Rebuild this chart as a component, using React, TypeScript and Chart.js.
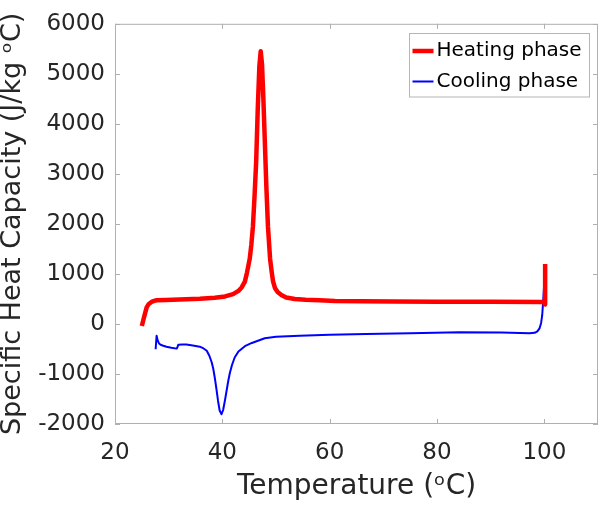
import React, { useEffect, useRef } from "react";
import { Chart, registerables } from "chart.js";

Chart.register(...registerables);

const xTicks = [20, 40, 60, 80, 100];
const yTicks = [-2000, -1000, 0, 1000, 2000, 3000, 4000, 5000, 6000];

const heatingT = [25.0, 25.3, 25.6, 25.9, 26.3, 26.8, 27.3, 27.75, 29.5, 32, 35.8, 38.6, 40.5, 42.0, 43.0, 43.6, 44.2, 44.6, 45.1, 45.4, 45.7, 46.0, 46.3, 46.6, 46.9, 47.15, 47.4, 47.65, 47.9, 48.2, 48.5, 48.9, 49.2, 49.45, 49.8, 50.3, 51.0, 51.9, 53.5, 55.5, 58.1, 61.0, 66, 72, 80, 90, 99.8, 100.15, 100.15];
const heatingCp = [-40, 90, 210, 330, 400, 440, 460, 473, 480, 490, 506, 525, 550, 595, 660, 730, 846, 1030, 1300, 1580, 1950, 2550, 3230, 4300, 5150, 5450, 5180, 4500, 3700, 2750, 1950, 1300, 1040, 850, 720, 640, 580, 530, 500, 485, 472, 460, 452, 448, 445, 443, 441, 390, 1200];

const coolingT = [27.57, 27.75, 27.95, 28.2, 28.5, 29.0, 29.6, 30.5, 31.5, 31.65, 31.8, 32.5, 33.3, 34.5, 35.8, 36.5, 37.1, 37.6, 38.0, 38.3, 38.6, 38.9, 39.2, 39.5, 39.85, 40.15, 40.5, 40.8, 41.1, 41.4, 41.8, 42.3, 43.0, 44.2, 45.5, 47.9, 50.0, 54.4, 60.0, 66.8, 75, 84.2, 92, 97.2, 98.2, 98.7, 99.1, 99.4, 99.6, 99.8, 100.0, 100.2];
const coolingCp = [-506, -235, -330, -390, -415, -435, -455, -475, -493, -460, -415, -410, -412, -430, -455, -490, -537, -640, -760, -890, -1080, -1300, -1540, -1730, -1805, -1720, -1520, -1330, -1140, -980, -820, -670, -550, -445, -380, -285, -255, -235, -215, -203, -188, -168, -170, -184, -178, -150, -90, 20, 170, 480, 850, 1180];

const heatingLabel = "Heating phase";
const coolingLabel = "Cooling phase";
const xTitle = "Temperature (ᵒC)";
const yTitle = "Specific Heat Capacity (J/kg ᵒC)";

const FONT = "'DejaVu Sans', 'Liberation Sans', Arial, sans-serif";
const TEXT = "#262626";
const AXIS = "#b0b0b0";

const framePlugin = {
  id: "frame",
  beforeDatasetsDraw(chart: any) {
    const { ctx, chartArea } = chart;
    const { left, right, top, bottom } = chartArea;
    ctx.save();
    ctx.strokeStyle = AXIS;
    ctx.lineWidth = 1;
    ctx.strokeRect(left + 0.5, top + 0.5, right - left - 1, bottom - top - 1);
    const xs = chart.scales.x;
    const ys = chart.scales.y;
    const len = 5;
    ctx.beginPath();
    xTicks.forEach((v) => {
      const px = Math.round(xs.getPixelForValue(v)) + 0.5;
      ctx.moveTo(px, bottom);
      ctx.lineTo(px, bottom - len);
      ctx.moveTo(px, top);
      ctx.lineTo(px, top + len);
    });
    yTicks.forEach((v) => {
      const py = Math.round(ys.getPixelForValue(v)) + 0.5;
      ctx.moveTo(left, py);
      ctx.lineTo(left + len, py);
      ctx.moveTo(right, py);
      ctx.lineTo(right - len, py);
    });
    ctx.stroke();
    ctx.restore();
  },
  afterDraw(chart: any) {
    const { ctx, chartArea } = chart;
    const bw = 180;
    const bh = 63.5;
    const bx = Math.round(chartArea.right - 9 - bw) + 0.5;
    const by = Math.round(chartArea.top + 9) + 0.5;
    ctx.save();
    ctx.fillStyle = "#ffffff";
    ctx.fillRect(bx, by, bw, bh);
    ctx.strokeStyle = "#b5b5b5";
    ctx.lineWidth = 1;
    ctx.strokeRect(bx, by, bw, bh);
    const rows = [by + 17.5, by + 48];
    chart.data.datasets.forEach((ds: any, i: number) => {
      const cy = rows[i];
      ctx.strokeStyle = ds.borderColor;
      ctx.lineWidth = ds.borderWidth;
      ctx.beginPath();
      ctx.moveTo(bx + 3, cy);
      ctx.lineTo(bx + 24, cy);
      ctx.stroke();
      ctx.fillStyle = "#000000";
      ctx.font = `20px ${FONT}`;
      ctx.textBaseline = "middle";
      ctx.textAlign = "left";
      ctx.fillText(ds.label, bx + 27, cy);
    });
    ctx.restore();
  },
};

export default function App() {
  const ref = useRef<HTMLCanvasElement | null>(null);
  useEffect(() => {
    document.body.style.margin = "0";
    if (!ref.current) return;
    const heating = heatingT.map((t, i) => ({ x: t, y: heatingCp[i] }));
    const cooling = coolingT.map((t, i) => ({ x: t, y: coolingCp[i] }));
    const chart = new Chart(ref.current, {
      type: "scatter",
      data: {
        datasets: [
          {
            label: heatingLabel,
            data: heating,
            showLine: true,
            borderColor: "#ff0000",
            backgroundColor: "#ff0000",
            borderWidth: 4.5,
            pointRadius: 0,
            tension: 0,
            borderJoinStyle: "round",
            borderCapStyle: "butt",
          },
          {
            label: coolingLabel,
            data: cooling,
            showLine: true,
            borderColor: "#0000ff",
            backgroundColor: "#0000ff",
            borderWidth: 2,
            pointRadius: 0,
            tension: 0,
            borderJoinStyle: "round",
          },
        ],
      },
      options: {
        animation: false,
        responsive: false,
        maintainAspectRatio: false,
        layout: { padding: { top: 10, right: 2, left: 0, bottom: 0 } },
        plugins: {
          legend: { display: false },
          tooltip: { enabled: false },
        },
        scales: {
          x: {
            type: "linear",
            min: 20,
            max: 110,
            grid: { display: false, drawTicks: false },
            border: { display: false },
            afterBuildTicks: (s: any) => {
              s.ticks = xTicks.map((v) => ({ value: v }));
            },
            afterFit: (s: any) => {
              s.height = 83;
            },
            ticks: {
              color: TEXT,
              font: { family: FONT, size: 23 },
              padding: 15,
              maxRotation: 0,
              autoSkip: false,
              callback: (v: any) => String(v),
            },
            title: {
              display: true,
              text: xTitle,
              color: TEXT,
              font: { family: FONT, size: 28, lineHeight: 1.2 },
              padding: { top: 0, bottom: 3 },
            },
          },
          y: {
            type: "linear",
            min: -2000,
            max: 6000,
            grid: { display: false, drawTicks: false },
            border: { display: false },
            afterBuildTicks: (s: any) => {
              s.ticks = yTicks.map((v) => ({ value: v }));
            },
            afterFit: (s: any) => {
              s.width = 115;
            },
            ticks: {
              color: TEXT,
              font: { family: FONT, size: 23 },
              padding: 10,
              autoSkip: false,
              callback: (v: any) => String(v),
            },
            title: {
              display: true,
              text: yTitle,
              color: TEXT,
              font: { family: FONT, size: 27, lineHeight: 0.95 },
              padding: { top: 0, bottom: 0 },
            },
          },
        },
      },
      plugins: [framePlugin],
    });
    return () => chart.destroy();
  }, []);
  return (
    <div style={{ width: 600, height: 507, background: "#ffffff" }}>
      <canvas ref={ref} width={600} height={507} />
    </div>
  );
}
